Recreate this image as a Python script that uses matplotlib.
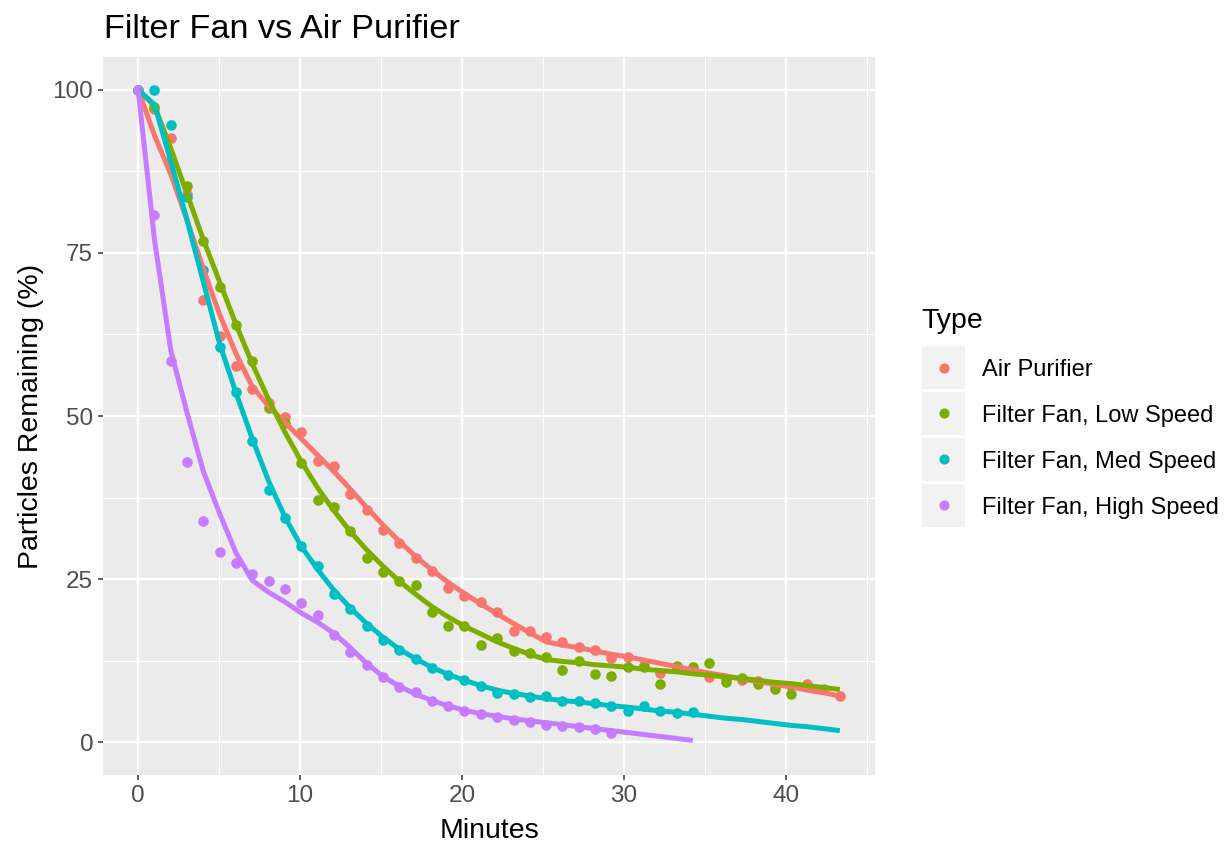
import matplotlib.pyplot as plt
from matplotlib.patches import Rectangle
from matplotlib.lines import Line2D
from matplotlib.ticker import MultipleLocator

plt.rcParams['font.family'] = ['Liberation Sans', 'DejaVu Sans']

# sample times (minutes), one reading roughly every minute
minutes = [0, 1.01, 2.02, 3.02, 4.03, 5.04, 6.05, 7.05, 8.06, 9.07,
           10.08, 11.08, 12.09, 13.10, 14.11, 15.12, 16.12, 17.13, 18.14, 19.15,
           20.15, 21.16, 22.17, 23.18, 24.18, 25.19, 26.20, 27.21, 28.21, 29.22,
           30.23, 31.24, 32.25, 33.25, 34.26, 35.27, 36.28, 37.28, 38.29, 39.30,
           40.31, 41.31, 42.32, 43.33]

# observed points
air_pts = [100, 97.0, 92.6, 84.0, 67.7, 62.3, 57.6, 54.1, 52.0, 49.9,
           47.6, 43.1, 42.3, 38.1, 35.6, 32.6, 30.6, 28.3, 26.2, 23.6,
           22.4, 21.5, 19.9, 17.1, 17.1, 16.2, 15.3, 14.6, 14.1, 13.0,
           13.1, 11.9, 10.7, 11.4, 11.1, 10.0, 9.5, 9.6, 9.4, 8.6,
           8.7, 8.9, 8.1, 7.1]
low_pts = [100, 97.4, 89.3, 85.3, 76.8, 69.7, 64.0, 58.4, 51.2, 49.0,
           42.8, 37.1, 36.0, 32.4, 28.3, 26.1, 24.7, 24.1, 20.0, 17.9,
           17.8, 14.9, 16.0, 14.0, 13.7, 13.1, 11.1, 12.5, 10.4, 10.1,
           11.5, 11.6, 8.9, 11.7, 11.5, 12.2, 9.3, 9.9, 8.9, 8.2, 7.4]
med_pts = [100, 100, 94.6, 83.5, 72.3, 60.5, 53.7, 46.1, 38.7, 34.4,
           30.1, 27.0, 22.8, 20.4, 17.9, 15.7, 14.1, 12.8, 11.4, 10.3,
           9.5, 8.6, 7.6, 7.4, 6.9, 7.1, 6.4, 6.3, 6.0, 5.6,
           4.8, 5.5, 4.8, 4.5, 4.6]
high_pts = [100, 80.8, 58.5, 42.9, 33.9, 29.2, 27.5, 25.8, 24.7, 23.5,
            21.4, 19.5, 16.4, 13.9, 11.8, 10.0, 8.5, 7.7, 6.3, 5.5,
            4.8, 4.4, 3.9, 3.4, 3.1, 2.7, 2.5, 2.3, 2.0, 1.4]

# fitted curves
air_fit = [100, 93, 87, 80, 72.5, 65.5, 59.5, 54.5, 51.5, 49,
           46.5, 44, 41.5, 38.8, 36, 33.3, 30.8, 28.5, 26.4, 24.5,
           22.8, 21.2, 19.7, 18.2, 16.8, 15.4, 14.9, 14.5, 14.0, 13.5,
           13.1, 12.6, 12.1, 11.6, 11.1, 10.6, 10.2, 9.7, 9.3, 8.9,
           8.5, 8.0, 7.6, 7.1]
low_fit = [100, 97.5, 91, 84, 77, 70.5, 64, 58, 52.5, 47.5,
           43, 39, 35.5, 32.3, 29.5, 27, 24.7, 22.7, 20.8, 19.2,
           17.8, 16.6, 15.4, 14.4, 13.5, 12.7, 12.4, 12.2, 11.9, 11.7,
           11.5, 11.2, 11.0, 10.8, 10.5, 10.3, 10.0, 9.8, 9.5, 9.2,
           9.0, 8.7, 8.4, 8.1]
med_fit = [100, 97.7, 89, 80, 70.5, 61, 53.5, 46.5, 40, 34.5,
           30, 26.5, 23.3, 20.6, 18.2, 16.1, 14.3, 12.8, 11.5, 10.4,
           9.5, 8.7, 8.0, 7.5, 7.1, 6.7, 6.4, 6.2, 5.9, 5.6,
           5.4, 5.1, 4.8, 4.6, 4.3, 4.0, 3.7, 3.5, 3.2, 2.9,
           2.6, 2.4, 2.1, 1.8]
high_fit = [100, 77, 60, 50.5, 41.5, 35, 29, 24.8, 23, 21.5,
            19.8, 18.4, 16.7, 14.5, 12.1, 10.1, 8.6, 7.4, 6.4, 5.6,
            4.9, 4.4, 4.0, 3.6, 3.3, 3.0, 2.7, 2.4, 2.1, 1.8,
            1.5, 1.2, 0.9, 0.6, 0.3]

labels = ['Air Purifier', 'Filter Fan, Low Speed', 'Filter Fan, Med Speed', 'Filter Fan, High Speed']
colors = ['#F8766D', '#7CAE00', '#00BFC4', '#C77CFF']

W, H = 1230, 846
fig = plt.figure(figsize=(W / 100, H / 100), dpi=100)
ax = fig.add_axes([103 / W, 1 - 775 / H, (875 - 103) / W, (775 - 57) / H])
ax.set_facecolor('#EBEBEB')
for s in ax.spines.values():
    s.set_visible(False)

series = [(air_pts, air_fit), (low_pts, low_fit), (med_pts, med_fit), (high_pts, high_fit)]

for (p, f), c in zip(series, colors):
    ax.scatter(minutes[:len(p)], p, s=58, color=c, linewidths=0, zorder=3)
for (p, f), c in zip(series, colors):
    ax.plot(minutes[:len(f)], f, color=c, lw=3.6, solid_capstyle='butt', zorder=4)

ax.set_xlim(-2.17, 45.5)
ax.set_ylim(-5, 105)
ax.xaxis.set_major_locator(MultipleLocator(10))
ax.xaxis.set_minor_locator(MultipleLocator(5))
ax.yaxis.set_major_locator(MultipleLocator(25))
ax.yaxis.set_minor_locator(MultipleLocator(12.5))
ax.grid(which='major', color='white', lw=1.7, zorder=0)
ax.grid(which='minor', color='white', lw=0.85, zorder=0)
ax.set_axisbelow(True)
ax.tick_params(which='major', length=3.6, width=1.1, color='#333333',
               labelsize=17.5, labelcolor='#4D4D4D', pad=3.5)
ax.tick_params(which='minor', length=0)

ax.set_xlabel('Minutes', fontsize=20.5, labelpad=8)
ax.set_ylabel('Particles Remaining (%)', fontsize=20.5, labelpad=6)
fig.text(104 / W, 1 - 38 / H, 'Filter Fan vs Air Purifier', fontsize=24.7,
         ha='left', va='baseline')

# legend
fig.text(921 / W, 1 - 328 / H, 'Type', fontsize=20.5, ha='left', va='baseline')
for i, (lab, c) in enumerate(zip(labels, colors)):
    top = 346 + i * 46
    fig.add_artist(Rectangle((922 / W, 1 - (top + 43) / H), 43 / W, 43 / H,
                             transform=fig.transFigure, facecolor='#F2F2F2',
                             edgecolor='none'))
    cy = top + 21.5
    fig.add_artist(Line2D([943.5 / W], [1 - cy / H], marker='o', markersize=7.3,
                          color=c, markeredgewidth=0, transform=fig.transFigure))
    fig.text(982 / W, 1 - cy / H, lab, fontsize=17, ha='left', va='center_baseline')

fig.savefig('out.png', dpi=100)
